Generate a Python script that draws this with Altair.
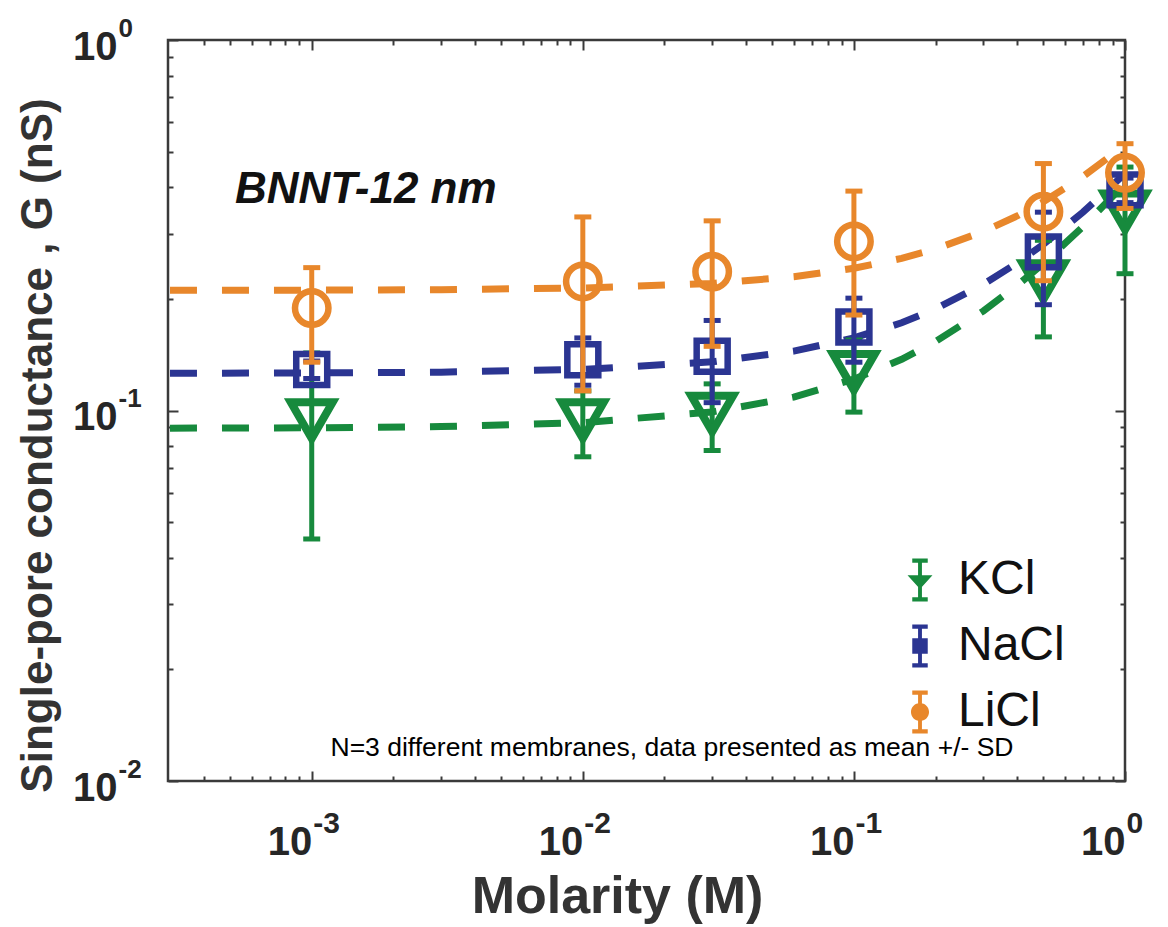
import altair as alt
import pandas as pd

# ---------------- data ----------------
molarity = [0.001, 0.01, 0.03, 0.1, 0.5, 1.0]
salts = ["KCl", "NaCl", "LiCl"]
colors = ["#178a3d", "#2b3592", "#e8872b"]

kcl_mean = [0.094, 0.094, 0.098, 0.127, 0.223, 0.344]
kcl_sd = [0.049, 0.019, 0.020, 0.028, 0.065, 0.110]
nacl_mean = [0.129, 0.137, 0.140, 0.168, 0.268, 0.394]
nacl_sd = [0.007, 0.020, 0.035, 0.033, 0.075, 0.030]
licl_mean = [0.189, 0.223, 0.237, 0.286, 0.344, 0.438]
licl_sd = [0.054, 0.110, 0.088, 0.105, 0.120, 0.087]

fit_molarity = [0.0003, 0.001, 0.003, 0.01, 0.03, 0.06, 0.1, 0.15, 0.2, 0.3, 0.4, 0.5, 0.7, 1.0]
kcl_fit = [0.0896, 0.0898, 0.0905, 0.0927, 0.0991, 0.1087, 0.1215, 0.1375, 0.1535, 0.1855, 0.2175, 0.2495, 0.3135, 0.4095]
nacl_fit = [0.126, 0.1263, 0.1269, 0.1291, 0.1353, 0.1446, 0.157, 0.1725, 0.188, 0.219, 0.25, 0.281, 0.343, 0.436]
licl_fit = [0.211, 0.2113, 0.2119, 0.2141, 0.2203, 0.2296, 0.242, 0.2575, 0.273, 0.304, 0.335, 0.366, 0.428, 0.521]

x_major = [0.001, 0.01, 0.1, 1.0]
x_minor = [0.0004, 0.0005, 0.0006, 0.0007, 0.0008, 0.0009,
           0.002, 0.003, 0.004, 0.005, 0.006, 0.007, 0.008, 0.009,
           0.02, 0.03, 0.04, 0.05, 0.06, 0.07, 0.08, 0.09,
           0.2, 0.3, 0.4, 0.5, 0.6, 0.7, 0.8, 0.9]
y_major = [0.01, 0.1, 1.0]
y_minor = [0.02, 0.03, 0.04, 0.05, 0.06, 0.07, 0.08, 0.09,
           0.2, 0.3, 0.4, 0.5, 0.6, 0.7, 0.8, 0.9]

label_text = ["BNNT-12 nm"]
note_text = ["N=3 different membranes, data presented as mean +/- SD"]

# ---------------- tables ----------------
rows = []
for salt, means, sds in zip(salts, [kcl_mean, nacl_mean, licl_mean], [kcl_sd, nacl_sd, licl_sd]):
    for m, g, s in zip(molarity, means, sds):
        rows.append({"molarity": m, "salt": salt, "G": g, "low": g - s, "high": g + s})
pts = pd.DataFrame(rows)

frows = []
for salt, fit in zip(salts, [kcl_fit, nacl_fit, licl_fit]):
    for m, g in zip(fit_molarity, fit):
        frows.append({"molarity": m, "salt": salt, "G": g})
fits = pd.DataFrame(frows)

# ---------------- styling ----------------
W, H = 957, 741
FRAME = "#3a3a3a"
SANS = "Liberation Sans, Arial, sans-serif"
TXT = "#262626"

xs = alt.Scale(type="log", domain=[0.000295, 1.0])
ys = alt.Scale(type="log", domain=[0.01, 1.0])
cs = alt.Scale(domain=salts, range=colors)

# legend symbols: marker + error bar (custom paths in the unit square)
bar = "M-0.09,-0.9L0.09,-0.9L0.09,0.9L-0.09,0.9Z"
caps = "M-0.36,-1L0.36,-1L0.36,-0.8L-0.36,-0.8ZM-0.36,0.8L0.36,0.8L0.36,1L-0.36,1Z"
tri = "M-0.58,-0.22L0.58,-0.22L0,0.42Z"
sq = "M-0.36,-0.36L0.36,-0.36L0.36,0.36L-0.36,0.36Z"
circ = "M-0.42,0A0.42,0.42 0 1,1 0.42,0A0.42,0.42 0 1,1 -0.42,0Z"
legend_shapes = [bar + caps + tri, bar + caps + sq, bar + caps + circ]

x_exp = ("datum.value < 0.005 ? '-3' : (datum.value < 0.05 ? '-2' : "
         "(datum.value < 0.5 ? '-1' : '0'))")
y_exp = "datum.value < 0.05 ? '-2' : (datum.value < 0.5 ? '-1' : '0')"


def tick_axis(orient, values, size):
    return alt.Axis(orient=orient, values=values, labels=False, ticks=True,
                    tickSize=size, tickWidth=2, tickColor=FRAME, domain=False,
                    grid=False, offset=-size, title=None)


# main axes: major ticks (inward) + mantissa "10" + axis titles
x_main = alt.Axis(orient="bottom", values=x_major, labelExpr="'10'", tickSize=10,
                  tickWidth=2, tickColor=FRAME, offset=-10, domain=False, grid=False,
                  labelFont=SANS, labelFontSize=40, labelFontWeight="bold",
                  labelColor=TXT, labelPadding=73, labelAlign="right",
                  labelBaseline="alphabetic", labelFlush=False, labelOverlap=False,
                  title="Molarity (M)", titleFont=SANS, titleFontSize=52,
                  titleFontWeight="bold", titleColor="#333333",
                  titleX=449, titleY=141, titleAlign="center",
                  titleBaseline="alphabetic")
y_main = alt.Axis(orient="left", values=y_major, labelExpr="'10'", tickSize=10,
                  tickWidth=2, tickColor=FRAME, offset=-10, domain=False, grid=False,
                  labelFont=SANS, labelFontSize=40, labelFontWeight="bold",
                  labelColor=TXT, labelPadding=51, labelAlign="right",
                  labelBaseline="middle", labelOffset=7, labelFlush=False,
                  labelOverlap=False, title="Single-pore conductance , G (nS)",
                  titleFont=SANS, titleFontSize=44, titleFontWeight="bold",
                  titleColor="#333333", titleAngle=-90, titleX=-140, titleY=405,
                  titleAlign="center", titleBaseline="middle")
# exponent axes (superscripts)
x_sup = alt.Axis(orient="bottom", values=x_major, labelExpr=x_exp, ticks=True,
                 tickSize=0, domain=False, grid=False, offset=0,
                 labelFont=SANS, labelFontSize=30, labelFontWeight="bold",
                 labelColor=TXT, labelPadding=51, labelAlign="left", labelOffset=1,
                 labelBaseline="alphabetic", labelFlush=False, labelOverlap=False,
                 title=None)
y_sup = alt.Axis(orient="left", values=y_major, labelExpr=y_exp, ticks=True,
                 tickSize=0, domain=False, grid=False, offset=0,
                 labelFont=SANS, labelFontSize=26, labelFontWeight="bold",
                 labelColor=TXT, labelPadding=50, labelAlign="left",
                 labelBaseline="middle", labelOffset=-12, labelFlush=False,
                 labelOverlap=False, title=None)


def hidden(xaxis, yaxis):
    return alt.Chart(pts).mark_point(opacity=0, size=10).encode(
        x=alt.X("molarity:Q", scale=xs, axis=xaxis),
        y=alt.Y("G:Q", scale=ys, axis=yaxis),
    )


leg = alt.Legend(orient="none", legendX=728, legendY=516, title=None,
                 labelFont=SANS, labelFontSize=48, labelColor="#111111",
                 symbolSize=1849, symbolOpacity=1, symbolStrokeWidth=0,
                 rowPadding=18, labelOffset=14)

# invisible layer: legend + inner minor ticks bottom/left
hidden_leg = alt.Chart(pts).mark_point(filled=True, opacity=0, size=10).encode(
    x=alt.X("molarity:Q", scale=xs, axis=tick_axis("bottom", x_minor, 5)),
    y=alt.Y("G:Q", scale=ys, axis=tick_axis("left", y_minor, 5)),
    color=alt.Color("salt:N", scale=cs, legend=leg),
    shape=alt.Shape("salt:N", scale=alt.Scale(domain=salts, range=legend_shapes), legend=leg),
)

layers = [
    hidden(x_main, y_main),
    hidden(x_sup, y_sup),
    hidden_leg,
    hidden(tick_axis("top", x_major, 10), tick_axis("right", y_major, 10)),
    hidden(tick_axis("top", x_minor, 5), tick_axis("right", y_minor, 5)),
]

# fitted dashed lines
for salt, col in zip(salts, colors):
    layers.append(
        alt.Chart(fits).transform_filter(alt.datum.salt == salt)
        .mark_line(strokeDash=[27, 25], strokeWidth=7, color=col)
        .encode(x=alt.X("molarity:Q", scale=xs, axis=None),
                y=alt.Y("G:Q", scale=ys, axis=None))
    )

marker_shapes = ["triangle-down", "square", "circle"]
marker_sizes = [1750, 960, 1120]
marker_widths = [8, 6.5, 6.5]

for salt, col, shp, sz, sw in zip(salts, colors, marker_shapes, marker_sizes, marker_widths):
    base = alt.Chart(pts).transform_filter(alt.datum.salt == salt)
    xenc = alt.X("molarity:Q", scale=xs, axis=None)
    rule = base.mark_rule(strokeWidth=5, color=col).encode(
        x=xenc, y=alt.Y("low:Q", scale=ys, axis=None), y2="high:Q")
    cap_lo = base.mark_tick(orient="horizontal", size=17, thickness=5, color=col,
                            opacity=1).encode(
        x=xenc, y=alt.Y("low:Q", scale=ys, axis=None))
    cap_hi = base.mark_tick(orient="horizontal", size=17, thickness=5, color=col,
                            opacity=1).encode(
        x=xenc, y=alt.Y("high:Q", scale=ys, axis=None))
    mk = base.mark_point(shape=shp, size=sz, strokeWidth=sw, filled=False,
                         opacity=1, color=col).encode(
        x=xenc, y=alt.Y("G:Q", scale=ys, axis=None))
    layers += [rule, cap_lo, cap_hi, mk]

title_txt = alt.Chart(pd.DataFrame({"t": label_text})).mark_text(
    font=SANS, fontSize=44, fontWeight="bold", fontStyle="italic",
    align="left", baseline="middle", color="#111111",
).encode(text="t:N", x=alt.value(67), y=alt.value(150))

note_txt = alt.Chart(pd.DataFrame({"t": note_text})).mark_text(
    font=SANS, fontSize=26.5, align="center", baseline="middle", color="#000000",
).encode(text="t:N", x=alt.value(504), y=alt.value(708))

layers += [title_txt, note_txt]

chart = alt.layer(*layers).resolve_axis(x="independent", y="independent").properties(
    width=W, height=H,
    autosize=alt.AutoSizeParams(type="none"),
    padding={"left": 168, "top": 40, "right": 43, "bottom": 146},
    background="white",
).configure_view(stroke=FRAME, strokeWidth=2.5)

chart.save("out.html", embed_options={"renderer": "svg", "actions": False})
